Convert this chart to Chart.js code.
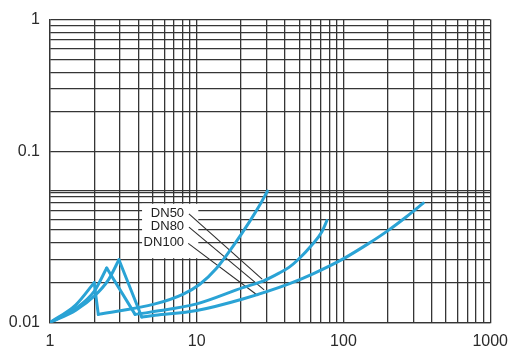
<!DOCTYPE html>
<html>
<head>
<meta charset="utf-8">
<script src="https://cdn.jsdelivr.net/npm/chart.js@4/dist/chart.umd.min.js"></script>
<style>
html,body{margin:0;padding:0;background:#fff;}
#wrap{width:517px;height:351px;}
</style>
</head>
<body>
<div id="wrap"><canvas id="c" width="517" height="351"></canvas></div>
<script>
// ---------- data ----------
const seriesNames = ['DN50', 'DN80', 'DN100'];

const dn50X = [1, 1.5, 2, 2.134, 5.2, 8.1, 10.5, 13.6, 17.6, 22.8, 26.7, 30.3];
const dn50Y = [0.01, 0.0136, 0.02, 0.01152, 0.01382, 0.0164, 0.01945, 0.02555, 0.0374, 0.0573, 0.0761, 0.0983];

const dn80X = [1, 1.5, 2, 2.435, 3.8, 4.81, 10, 20.6, 28.8, 36.4, 42.5, 49.6, 60.9, 71.1, 77.1];
const dn80Y = [0.01, 0.0128, 0.0172, 0.0258, 0.01152, 0.01198, 0.01382, 0.01835, 0.02075, 0.0236, 0.0261, 0.0302, 0.0385, 0.0483, 0.0589];

const dn100X = [1, 1.5, 2, 2.5, 2.95, 4.22, 5.2, 10, 20.6, 42.5, 62.5, 99.5, 146, 202, 270, 350];
const dn100Y = [0.01, 0.0124, 0.0158, 0.021, 0.0298, 0.011, 0.01133, 0.01233, 0.01506, 0.01958, 0.02343, 0.03025, 0.0391, 0.0497, 0.0633, 0.0798];

// index of the peak and of the bottom of the drop in each series
const peakIndex = [2, 3, 4];
const dropIndex = [3, 4, 5];

const xGridValues = [1,2,3,4,5,6,7,8,9,10,20,30,40,50,60,70,80,90,100,200,300,400,500,600,700,800,900,1000];
const xTickLabels = {1: '1', 10: '10', 100: '100', 1000: '1000'};

// the printed grid has a blank band between the top of the lower decade and the "0.1" line
const yGridValues = [0.01,0.02,0.03,0.04,0.05,0.06,0.07,0.08,0.09,0.095,0.09999,0.1,0.2,0.3,0.4,0.5,0.6,0.7,0.8,0.9,1];
const yTickLabels = {0.01: '0.01', 0.1: '0.1', 1: '1'};
const yBreakValue = 0.1;
const yBreakGapDecades = 0.289;

// callout labels (data coordinates)
const calloutTextX = [8.2, 8.2, 8.2];
const calloutTextY = [0.0671, 0.0535, 0.0402];
const leaderStartX = [8.85, 8.85, 8.75];
const leaderStartY = [0.0662, 0.0525, 0.0396];
const leaderEndX = [27.9, 28.8, 26.2];
const leaderEndY = [0.0213, 0.01765, 0.01593];
const calloutPanelX = [4.24, 10.25];
const calloutPanelY = [0.0306, 0.0789];

// ---------- custom log scale with the blank band ----------
const LogScale = Chart.registry.getScale('logarithmic');
class GapLogScale extends LogScale {
  getPixelForValue(value) {
    if (value === null || value === undefined || isNaN(value) || value <= 0) return NaN;
    const lo = Math.log10(this.min), hi = Math.log10(this.max);
    let u = Math.log10(value) - lo;
    if (value >= yBreakValue) u += yBreakGapDecades;
    return this.getPixelForDecimal(u / (hi - lo + yBreakGapDecades));
  }
  getValueForPixel(pixel) {
    const lo = Math.log10(this.min), hi = Math.log10(this.max);
    const u = this.getDecimalForPixel(pixel) * (hi - lo + yBreakGapDecades);
    const brk = Math.log10(yBreakValue) - lo;
    const d = u <= brk ? u : Math.max(brk, u - yBreakGapDecades);
    return Math.pow(10, lo + d);
  }
}
GapLogScale.id = 'gaplog';
Chart.register(GapLogScale);

const toPts = (xs, ys) => xs.map((x, i) => ({x: x, y: ys[i]}));
const curveColor = '#2aa3d5';
const gridColor = '#353535';
const fontFamily = "'Liberation Sans', Arial, Helvetica, sans-serif";

const lineStyle = {
  borderColor: curveColor, borderWidth: 3, pointRadius: 0, fill: false,
  borderJoinStyle: 'round', borderCapStyle: 'round'
};

const allX = [dn50X, dn80X, dn100X];
const allY = [dn50Y, dn80Y, dn100Y];
const datasets = [];
seriesNames.forEach((name, i) => {
  const pts = toPts(allX[i], allY[i]);
  const p = peakIndex[i], d = dropIndex[i];
  datasets.push(Object.assign({label: name, data: pts.slice(0, p + 1), cubicInterpolationMode: 'monotone'}, lineStyle));
  datasets.push(Object.assign({label: name, data: pts.slice(p, d + 1), tension: 0}, lineStyle));
  datasets.push(Object.assign({label: name, data: pts.slice(d), cubicInterpolationMode: 'monotone'}, lineStyle));
});

const calloutPlugin = {
  id: 'callouts',
  beforeDatasetsDraw(chart) {
    const {ctx} = chart;
    const xs = chart.scales.x, ys = chart.scales.y;
    ctx.save();
    const l = xs.getPixelForValue(calloutPanelX[0]);
    const r = xs.getPixelForValue(calloutPanelX[1]);
    const t = ys.getPixelForValue(calloutPanelY[1]);
    const b = ys.getPixelForValue(calloutPanelY[0]);
    ctx.fillStyle = '#ffffff';
    ctx.fillRect(l, t, r - l, b - t);
    ctx.strokeStyle = '#2e2e2e';
    ctx.lineWidth = 1.1;
    ctx.fillStyle = '#222';
    ctx.font = "13px " + fontFamily;
    ctx.textAlign = 'right';
    ctx.textBaseline = 'middle';
    seriesNames.forEach((name, i) => {
      ctx.beginPath();
      ctx.moveTo(xs.getPixelForValue(leaderStartX[i]), ys.getPixelForValue(leaderStartY[i]));
      ctx.lineTo(xs.getPixelForValue(leaderEndX[i]), ys.getPixelForValue(leaderEndY[i]));
      ctx.stroke();
      ctx.fillText(name, xs.getPixelForValue(calloutTextX[i]), ys.getPixelForValue(calloutTextY[i]));
    });
    ctx.restore();
  }
};

new Chart(document.getElementById('c'), {
  type: 'line',
  data: {datasets: datasets},
  options: {
    responsive: false,
    animation: false,
    devicePixelRatio: 1,
    layout: {padding: {top: 13, right: 22, left: 0, bottom: 0}},
    plugins: {legend: {display: false}, tooltip: {enabled: false}},
    scales: {
      x: {
        type: 'logarithmic',
        min: 1, max: 1000,
        afterBuildTicks: s => { s.ticks = xGridValues.map(v => ({value: v})); },
        afterFit: s => { s.height = 28.5; },
        grid: {color: gridColor, lineWidth: 1.3, drawTicks: false},
        border: {display: true, color: gridColor, width: 1.3},
        ticks: {
          autoSkip: false, maxRotation: 0, minRotation: 0, padding: 9,
          color: '#2b2b2b', font: {family: fontFamily, size: 16},
          callback: v => xTickLabels[v] || ''
        }
      },
      y: {
        type: 'gaplog',
        min: 0.01, max: 1,
        afterBuildTicks: s => { s.ticks = yGridValues.map(v => ({value: v})); },
        afterFit: s => { s.width = 50; },
        grid: {color: gridColor, lineWidth: 1.3, drawTicks: false},
        border: {display: true, color: gridColor, width: 1.3},
        ticks: {
          autoSkip: false, padding: 10,
          color: '#2b2b2b', font: {family: fontFamily, size: 16},
          callback: v => yTickLabels[v] || ''
        }
      }
    }
  },
  plugins: [calloutPlugin]
});
</script>
</body>
</html>
